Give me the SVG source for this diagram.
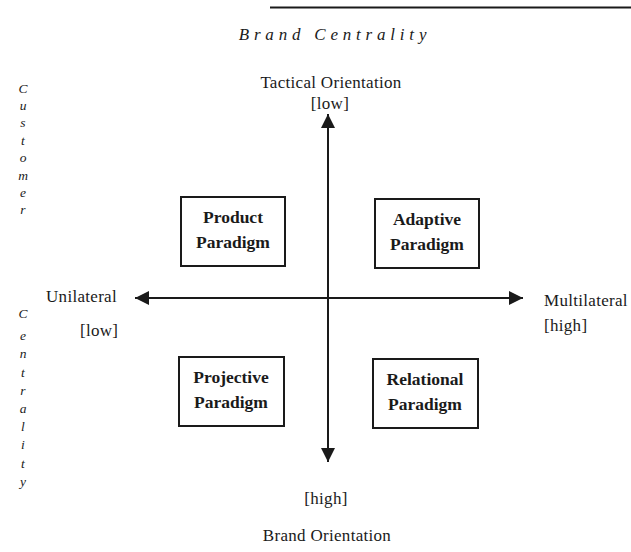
<svg xmlns="http://www.w3.org/2000/svg" width="631" height="552" viewBox="0 0 631 552">
<style>
text{font-family:"Liberation Serif","DejaVu Serif",serif;fill:#1a1a1a}
.lbl{font-size:17px;letter-spacing:0.3px}
.box rect{fill:#fff;stroke:#1a1a1a;stroke-width:2}
.box text{font-size:17.5px;font-weight:bold;text-anchor:middle}
.vert{font-size:13.5px;font-style:italic;text-anchor:middle}
.axis{stroke:#1a1a1a;stroke-width:2;fill:none}
</style>
<defs>
<marker id="ah" viewBox="0 0 10 10" refX="10" refY="5" markerWidth="7.5" markerHeight="7" orient="auto" markerUnits="strokeWidth">
<path d="M0,0 L10,5 L0,10 z" fill="#1a1a1a"/>
</marker>
</defs>
<rect width="631" height="552" fill="#fff"/>
<line x1="270" y1="7.5" x2="631" y2="7.5" stroke="#1a1a1a" stroke-width="2"/>
<text x="335" y="40" font-size="17" font-style="italic" text-anchor="middle" letter-spacing="4.8">Brand  Centrality</text>
<text x="331" y="88" class="lbl" text-anchor="middle">Tactical Orientation</text>
<text x="330" y="109" class="lbl" text-anchor="middle">[low]</text>
<text x="46" y="302" class="lbl">Unilateral</text>
<text x="80" y="336" class="lbl">[low]</text>
<text x="544" y="306" class="lbl">Multilateral</text>
<text x="544" y="331" class="lbl">[high]</text>
<text x="326" y="504" class="lbl" text-anchor="middle">[high]</text>
<text x="327" y="541" class="lbl" text-anchor="middle">Brand Orientation</text>
<g class="vert">
<text x="23" y="93">C</text><text x="23" y="110">u</text><text x="23" y="127">s</text><text x="23" y="145">t</text><text x="23" y="162">o</text><text x="23" y="180">m</text><text x="23" y="197">e</text><text x="23" y="214">r</text>
<text x="23" y="318">C</text><text x="23" y="340">e</text><text x="23" y="358">n</text><text x="23" y="377">t</text><text x="23" y="395">r</text><text x="23" y="413">a</text><text x="23" y="431">l</text><text x="23" y="449">i</text><text x="23" y="468">t</text><text x="23" y="486">y</text>
</g>
<g id="connectors">
<line class="axis" x1="328" y1="298" x2="328" y2="114" marker-end="url(#ah)"/>
<line class="axis" x1="328" y1="298" x2="328" y2="462" marker-end="url(#ah)"/>
<line class="axis" x1="330" y1="298" x2="135" y2="298" marker-end="url(#ah)"/>
<line class="axis" x1="326" y1="298" x2="523" y2="298" marker-end="url(#ah)"/>
</g>
<g id="product" class="box"><rect x="181" y="197" width="104" height="69"/><text x="233" y="223">Product</text><text x="233" y="248">Paradigm</text></g>
<g id="adaptive" class="box"><rect x="375" y="199" width="104" height="69"/><text x="427" y="225">Adaptive</text><text x="427" y="250">Paradigm</text></g>
<g id="projective" class="box"><rect x="179" y="357" width="105" height="69"/><text x="231" y="383">Projective</text><text x="231" y="408">Paradigm</text></g>
<g id="relational" class="box"><rect x="373" y="359" width="105" height="69"/><text x="425" y="385">Relational</text><text x="425" y="410">Paradigm</text></g>
</svg>
